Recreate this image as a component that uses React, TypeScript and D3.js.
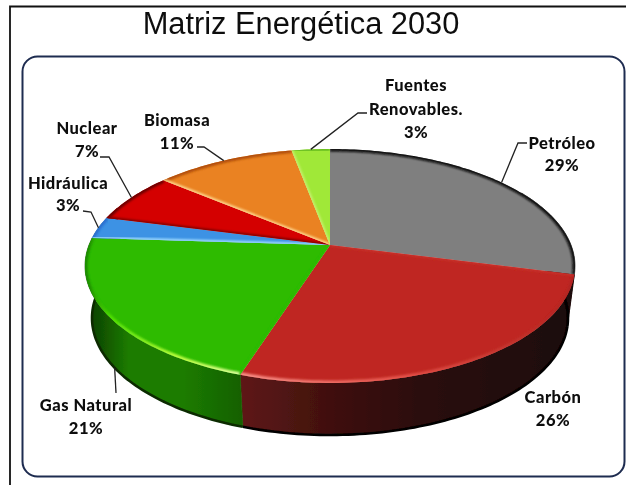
import React from "react";
import * as d3 from "d3";

const categories = ["Petróleo", "Carbón", "Gas Natural", "Hidráulica", "Nuclear", "Biomasa", "Fuentes Renovables."];
const values = [29, 26, 21, 3, 7, 11, 3];
const titleText = "Matriz Energética 2030";

const topColors = ["#7f7f7f", "#bf2722", "#2dbb00", "#3c92e4", "#d40000", "#ea8222", "#a0e838"];
const rimColors = ["#0c0c0c", "url(#rimCarbon)", "url(#rimGas)", "#2a6fd0", "#6a0000", "#b04e08", "#6cc020"];
const wallColors = ["#050505", "url(#wallCarbon)", "url(#wallGas)", "#1a5a9a", "#6a0000", "#8a4a10", "#5a9020"];
const edgeColors = ["#000", "#050101", "#082c00", "#0b3600", "#400", "#400", "#400"];
const seamColors = ["#a8a8a8", "#c8302c", "#2dbb00", "#a0dcff", "#7a0000", "#ffd890", "#c8f070"];

const labelLines = [["Petróleo", "29%"], ["Carbón", "26%"], ["Gas Natural", "21%"], ["Hidráulica", "3%"], ["Nuclear", "7%"], ["Biomasa", "11%"], ["Fuentes", "Renovables.", "3%"]];
const labelX = [562, 553, 86, 68, 87, 177, 416];
const labelY = [143, 397, 405, 183, 128, 120, 85];
const lineStep = [22, 23, 23, 22, 23, 23, 23.5];
const leaders: ([number, number][] | null)[] = [
  [[518, 143], [527, 143]],
  null,
  [[116, 393]],
  [[91, 212], [83, 211]],
  [[109, 157], [100, 157]],
  [[204, 147], [197, 147]],
  [[358, 113], [367, 113]],
];

const APEX_X = 330, APEX_Y = 245, K = 241, K2 = 113.2, P = 0.1795, SCALE_X = 238 / 245, DEPTH_Y = 297;

function top(t: number): [number, number] {
  const u = Math.sin(t), v = Math.cos(t), d = 1 + P * v;
  return [APEX_X + (K * u) / d, APEX_Y - (K2 * v) / d];
}
function bottom(t: number): [number, number] {
  const u = Math.sin(t), v = Math.cos(t), d = 1 + P * v;
  return [APEX_X + (SCALE_X * K * u) / d, DEPTH_Y - (K2 * v) / d];
}
const line = d3.line();
function samples(a: number, b: number): number[] {
  const n = Math.max(2, Math.ceil(Math.abs(b - a) / 0.02));
  return d3.range(n + 1).map((i) => a + ((b - a) * i) / n);
}

export default function App() {
  const arcs = d3.pie<number>().sort(null)(values);
  const apex: [number, number] = [APEX_X, APEX_Y];
  const VIS_A = (60 * Math.PI) / 180, VIS_B = (290 * Math.PI) / 180;
  return (
    <svg width={626} height={485} style={{ position: "absolute", left: 0, top: 0, background: "#fff" }}>
      <defs>
        <filter id="soft" x="-5%" y="-5%" width="110%" height="110%"><feGaussianBlur stdDeviation={0.7} /></filter>
        <filter id="softer" x="-10%" y="-10%" width="120%" height="120%"><feGaussianBlur stdDeviation={1.1} /></filter>
        <filter id="txt"><feGaussianBlur stdDeviation={0.35} /></filter>
        <linearGradient id="wallGas" gradientUnits="userSpaceOnUse" x1={85} x2={242} y1={0} y2={0}>
          <stop offset="0" stopColor="#0c4000" /><stop offset="0.1" stopColor="#105000" /><stop offset="0.28" stopColor="#1c7c00" /><stop offset="0.62" stopColor="#1c7c00" /><stop offset="1" stopColor="#146000" />
        </linearGradient>
        <linearGradient id="wallCarbon" gradientUnits="userSpaceOnUse" x1={242} x2={575} y1={0} y2={0}>
          <stop offset="0" stopColor="#5e1816" /><stop offset="0.3" stopColor="#3c0f0d" /><stop offset="0.55" stopColor="#2a0a09" /><stop offset="1" stopColor="#1c0707" />
        </linearGradient>
        <linearGradient id="rimGas" gradientUnits="userSpaceOnUse" x1={88} x2={240} y1={0} y2={0}>
          <stop offset="0" stopColor="#1c8a00" /><stop offset="0.15" stopColor="#50e000" /><stop offset="0.6" stopColor="#c0ff40" /><stop offset="1" stopColor="#e0ffa0" />
        </linearGradient>
        <linearGradient id="rimCarbon" gradientUnits="userSpaceOnUse" x1={242} x2={573} y1={0} y2={0}>
          <stop offset="0" stopColor="#f89088" /><stop offset="0.5" stopColor="#e45048" /><stop offset="1" stopColor="#b02420" />
        </linearGradient>
        {arcs.map((a, i) => (
          <clipPath id={`clip${i}`} key={i}>
            <path d={line([apex, ...samples(a.startAngle, a.endAngle).map(top)])! + "Z"} />
          </clipPath>
        ))}
      </defs>

      <path d="M10,485 V6.5 H626" fill="none" stroke="#111" strokeWidth={1.8} />
      <rect x={22.5} y={56.5} width={602} height={420} rx={15} fill="#fff" stroke="#1e2c50" strokeWidth={2} />
      <text x={301} y={34} textAnchor="middle" fontFamily="'Liberation Sans', Arial, sans-serif" fontSize={30.8} fill="#111" filter="url(#txt)">{titleText}</text>

      <g filter="url(#soft)">
        {arcs.map((a, i) => {
          const s = Math.max(a.startAngle, VIS_A), e = Math.min(a.endAngle, VIS_B);
          if (e <= s) return null;
          return (
            <path key={i} fill={wallColors[i]} stroke={wallColors[i]} strokeWidth={0.6}
              d={line([...samples(s, e).map(top), ...samples(e, s).map(bottom)])! + "Z"} />
          );
        })}
        {arcs.map((a, i) => {
          const s = Math.max(a.startAngle, VIS_A), e = Math.min(a.endAngle, VIS_B);
          if (e <= s) return null;
          return <path key={i} fill="none" stroke={edgeColors[i]} strokeWidth={2.6} d={line(samples(s, e).map(bottom))!} />;
        })}
        {arcs.map((a, i) => (
          <path key={i} fill={topColors[i]} d={line([apex, ...samples(a.startAngle, a.endAngle).map(top)])! + "Z"} />
        ))}
        {arcs.map((a, i) => (
          <g key={i} clipPath={`url(#clip${i})`}>
            <path fill="none" stroke={rimColors[i]} strokeWidth={5} filter="url(#softer)" d={line(samples(a.startAngle, a.endAngle).map(top))!} />
            <path fill="none" stroke={seamColors[i]} strokeWidth={3} filter="url(#softer)" d={line([top(a.startAngle), apex])!} />
          </g>
        ))}
      </g>

      <g fill="none" stroke="#222" strokeWidth={1.3}>
        {arcs.map((a, i) => {
          const pts = leaders[i];
          if (!pts) return null;
          const mid = (a.startAngle + a.endAngle) / 2;
          const isFront = mid > Math.PI / 2 && mid < (3 * Math.PI) / 2;
          return <path key={i} d={line([isFront ? bottom(mid) : top(mid), ...pts])!} />;
        })}
      </g>

      <g filter="url(#txt)" fontFamily="Lato, Carlito, sans-serif" fontWeight={900} fontSize={16.5} letterSpacing={0.5} fill="#0c0c0c" textAnchor="middle" dominantBaseline="central">
        {labelLines.map((ls, i) =>
          ls.map((t, j) => <text key={`${i}-${j}`} x={labelX[i]} y={labelY[i] + j * lineStep[i]}>{t}</text>)
        )}
      </g>
      <title>{categories.join(", ")}</title>
    </svg>
  );
}
